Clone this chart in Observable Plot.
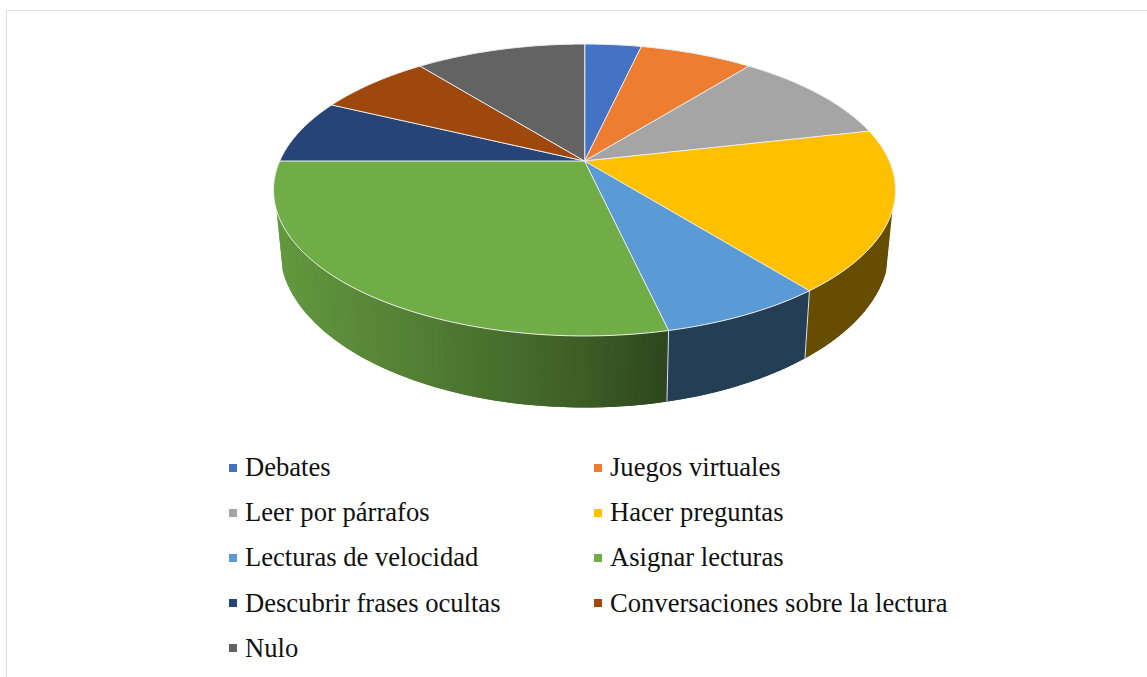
<!DOCTYPE html>
<html lang="es">
<head>
<meta charset="utf-8">
<script src="https://cdn.jsdelivr.net/npm/d3@7"></script>
<script src="https://cdn.jsdelivr.net/npm/@observablehq/plot@0.6"></script>
<style>
html,body{margin:0;padding:0;background:#fff;overflow:hidden}
body{position:relative;width:1147px;height:677px;font-family:"Liberation Serif","Times New Roman",serif}
#frame{position:absolute;left:6px;top:10px;right:0;bottom:0;border-top:1.5px solid #dedede;border-left:1.5px solid #dedede;pointer-events:none}
#chart svg{display:block;background:transparent;filter:blur(0.4px)}
#legend{display:grid;grid-template-columns:365px 365px;grid-auto-rows:45.2px;padding-left:229px;margin-top:0;font-size:26.6px;color:#111}
#legend div{display:flex;align-items:center;white-space:nowrap}
#legend i{display:block;width:8px;height:8px;margin-right:8px;flex:none}
</style>
</head>
<body>
<div id="frame"></div>
<div id="chart"></div>
<div id="legend"></div>
<script>
const categories = ["Debates","Juegos virtuales","Leer por párrafos","Hacer preguntas","Lecturas de velocidad","Asignar lecturas","Descubrir frases ocultas","Conversaciones sobre la lectura","Nulo"];
const values = [1,2,3,5,2,8,2,2,3];
const colors = ["#4472c4","#ed7d31","#a5a5a5","#ffc000","#5b9bd5","#70ad47","#264478","#9e480e","#636363"];

const W = 1147, H = 445;
const cx = 584, k = 0.1986;
const topRing = {a:304.8, b:140.2, y0:160.5};
const botRing = {a:298.7, b:152.6, y0:216.6};
const total = d3.sum(values);
const rad = d => d*Math.PI/180;
const pt = (ring,t) => {
  const u = Math.sin(t), v = -Math.cos(t), w = 1 - k*v;
  return {x: cx + ring.a*u/w, y: ring.y0 + ring.b*v/w};
};
let acc = 0;
const slices = values.map((v,i)=>{
  const s = acc/total*2*Math.PI; acc += v;
  return {i, name:categories[i], color:colors[i], start:s, end:acc/total*2*Math.PI};
});

// top faces
const faces = [];
for (const s of slices) {
  faces.push({id:s.i, color:s.color, x:cx, y:topRing.y0});
  const n = Math.max(2, Math.ceil((s.end-s.start)/rad(1)));
  for (let j=0;j<=n;j++){
    const p = pt(topRing, s.start+(s.end-s.start)*j/n);
    faces.push({id:s.i, color:s.color, ...p});
  }
}

// side wall with horizontal shading: each strip overlaps the next one so no seam shows
const shade = d3.scaleLinear().domain([275,430,590,670,1147]).range([0.88,0.72,0.53,0.4,0.4]).clamp(true);
const tint = (c,f)=>{const r=d3.rgb(c);return d3.rgb(r.r*f,r.g*f,r.b*f).formatHex();};
const wall = [];
const t0 = rad(109.3), t1 = rad(250.7), step = rad(1);
for (let t=t0, q=0; t<t1-1e-6; t+=step, q++){
  const tm = t+step/2, t2 = Math.min(t+step,t1), t3 = Math.min(t+2*step,t1);
  const s = slices.find(d=>tm>=d.start && tm<d.end);
  const a=pt(topRing,t), b=pt(topRing,t3), c=pt(botRing,t3), e=pt(botRing,t);
  const mid=pt(topRing,(t+t2)/2);
  const col = tint(s.color, shade(mid.x));
  for (const p of [a,b,c,e]) wall.push({id:q,color:col,...p});
}
// wall seams at slice boundaries
const seams = slices.map(s=>s.end).filter(t=>t>t0 && t<t1).map(t=>{
  const a=pt(topRing,t), b=pt(botRing,t);
  return {x1:a.x,y1:a.y,x2:b.x,y2:b.y};
});

const plot = Plot.plot({
  width:W, height:H, margin:0,
  x:{domain:[0,W],range:[0,W],axis:null},
  y:{domain:[0,H],range:[0,H],axis:null},
  color:{type:"identity"},
  marks:[
    Plot.line(wall,{x:"x",y:"y",z:"id",fill:"color",stroke:"none",curve:"linear-closed"}),
    Plot.link(seams,{x1:"x1",y1:"y1",x2:"x2",y2:"y2",stroke:"#dfe3e6",strokeWidth:1}),
    Plot.line(faces,{x:"x",y:"y",z:"id",fill:"color",stroke:"#ececec",strokeWidth:1,curve:"linear-closed",strokeLinejoin:"round"})
  ]
});
document.getElementById("chart").append(plot);

const legend = document.getElementById("legend");
categories.forEach((c,i)=>{
  const d=document.createElement("div");
  const sw=document.createElement("i"); sw.style.background=colors[i];
  const tx=document.createElement("span"); tx.textContent=c;
  d.append(sw,tx); legend.append(d);
});
</script>
</body>
</html>
